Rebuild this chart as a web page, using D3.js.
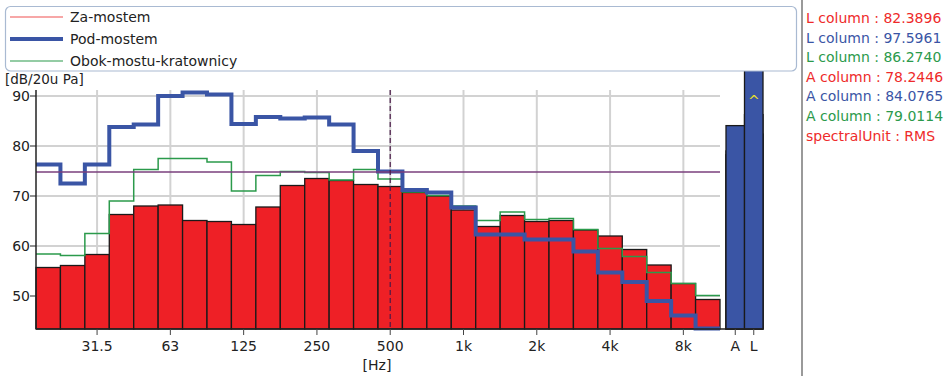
<!DOCTYPE html>
<html><head><meta charset="utf-8">
<script src="https://cdn.jsdelivr.net/npm/d3@7"></script>
<style>
body{margin:0;background:#fff;}
svg{display:block;font-family:"DejaVu Sans",sans-serif;}
</style></head>
<body><svg id="c" width="946" height="376"></svg>
<script>
// Third-octave band nominal frequencies (Hz)
const bands = [20,25,31.5,40,50,63,80,100,125,160,200,250,315,400,500,630,800,1000,1250,1600,2000,2500,3150,4000,5000,6300,8000,10000];
// Za-mostem (bars)
const zaMostem = [55.7,56.1,58.3,66.3,68.0,68.2,65.1,64.9,64.3,67.8,72.1,73.5,73.1,72.3,71.9,70.7,70.0,67.2,63.9,66.1,64.9,65.1,63.2,62.0,59.3,56.2,52.5,49.3];
// Pod-mostem (thick step line)
const podMostem = [76.3,72.5,76.3,83.8,84.3,90.0,90.7,90.3,84.4,85.8,85.5,85.7,84.3,79.0,74.9,71.2,70.7,67.7,62.3,62.3,61.3,61.3,58.9,54.7,52.8,49.0,46.1,43.5];
// Obok-mostu-kratownicy (thin step line)
const obokMostu = [58.4,58.1,62.5,69.0,75.3,77.5,77.5,76.8,71.0,74.1,74.9,74.7,73.2,75.3,73.4,70.8,70.1,68.0,65.1,66.8,65.3,65.5,63.3,59.5,57.9,54.7,52.5,50.1];
// Overall columns A and L
const colCats = ["A","L"];
const colZa = [78.2446, 82.3896];
const colPod = [84.0765, 97.5961];
const colObok = [79.0114, 86.2740];
const seriesNames = ["Za-mostem","Pod-mostem","Obok-mostu-kratownicy"];
const seriesColors = ["#ee2a2a","#3a55a5","#2b9a4b"];
const xTickValues = [31.5,63,125,250,500,1000,2000,4000,8000];
const xTickLabels = ["31.5","63","125","250","500","1k","2k","4k","8k"];
const yTicks = [50,60,70,80,90];
const refLevel = 74.8;
const markerFreq = 500;
const infoLines = [
  {t:"L column : 82.3896", c:"#ee2a2a"},
  {t:"L column : 97.5961", c:"#3a55a5"},
  {t:"L column : 86.2740", c:"#2b9a4b"},
  {t:"A column : 78.2446", c:"#ee2a2a"},
  {t:"A column : 84.0765", c:"#3a55a5"},
  {t:"A column : 79.0114", c:"#2b9a4b"},
  {t:"spectralUnit : RMS", c:"#ee2a2a"}
];

// exact base-2 third-octave value for a nominal frequency
const exact = f => 1000*Math.pow(2, Math.round(3*Math.log2(f/1000))/3);
const lo = f => exact(f)*Math.pow(2,-1/6);
const hi = f => exact(f)*Math.pow(2,1/6);

const svg = d3.select("#c");
const L = 36, R = 720, T = 90, B = 329;
const x = d3.scaleLog().domain([lo(bands[0]), hi(bands[bands.length-1])]).range([L,R]);
const y = d3.scaleLinear().domain([43.4, 91.2]).range([B,T]);
const xc = d3.scaleBand().domain(colCats).range([726,763]).padding(0);

// grid
const g = svg.append("g");
g.selectAll("line.hg").data(yTicks).join("line")
  .attr("x1",L).attr("x2",R).attr("y1",d=>y(d)).attr("y2",d=>y(d))
  .attr("stroke","#d2d2d2").attr("stroke-width",2);
g.selectAll("line.vg").data(xTickValues).join("line")
  .attr("x1",d=>x(exact(d))).attr("x2",d=>x(exact(d))).attr("y1",T).attr("y2",B)
  .attr("stroke","#d2d2d2").attr("stroke-width",2);

// bars
svg.append("g").selectAll("rect").data(bands).join("rect")
  .attr("x",d=>x(lo(d))).attr("width",d=>x(hi(d))-x(lo(d)))
  .attr("y",(d,i)=>y(zaMostem[i])).attr("height",(d,i)=>B-y(zaMostem[i]))
  .attr("fill","#ee2026").attr("stroke","#1a1a1a").attr("stroke-width",1.3);

// step lines
function stepPts(vals){
  const pts = bands.map((f,i)=>[x(lo(f)), y(vals[i])]);
  pts.push([x(hi(bands[bands.length-1])), y(vals[vals.length-1])]);
  return pts;
}
const stepLine = d3.line().curve(d3.curveStepAfter);
svg.append("path").attr("d",stepLine(stepPts(obokMostu))).attr("fill","none")
  .attr("stroke",seriesColors[2]).attr("stroke-width",1.5);
svg.append("path").attr("d",stepLine(stepPts(podMostem))).attr("fill","none")
  .attr("stroke",seriesColors[1]).attr("stroke-width",4);

// reference line & marker
svg.append("line").attr("x1",L).attr("x2",R).attr("y1",y(refLevel)).attr("y2",y(refLevel))
  .attr("stroke","#7a3f7c").attr("stroke-width",1.5);
svg.append("line").attr("x1",x(exact(markerFreq))).attr("x2",x(exact(markerFreq)))
  .attr("y1",T).attr("y2",B).attr("stroke","#4a1a48").attr("stroke-width",1.2).attr("stroke-dasharray","5,3");

// A / L columns
[[colZa,"#ee2026"],[colObok,seriesColors[2]],[colPod,seriesColors[1]]].forEach(([vals,col])=>{
  svg.append("g").selectAll("rect").data(colCats).join("rect")
    .attr("x",d=>xc(d)).attr("width",xc.bandwidth())
    .attr("y",(d,i)=>y(vals[i])).attr("height",(d,i)=>B-y(vals[i]))
    .attr("fill",col).attr("stroke","#1a1a1a").attr("stroke-width",1.3);
});
svg.append("text").attr("x",xc("L")+xc.bandwidth()/2).attr("y",T+16)
  .attr("text-anchor","middle").attr("fill","#e6df2a").attr("font-size",14).text("^");

// axes
const ax = svg.append("g").attr("font-size",14).attr("fill","#222");
ax.append("line").attr("x1",L).attr("x2",763).attr("y1",B).attr("y2",B).attr("stroke","#222").attr("stroke-width",1.5);
ax.append("line").attr("x1",L).attr("x2",L).attr("y1",T).attr("y2",B).attr("stroke","#222").attr("stroke-width",1.5);
yTicks.forEach(v=>{
  ax.append("line").attr("x1",L-6).attr("x2",L).attr("y1",y(v)).attr("y2",y(v)).attr("stroke","#222");
  ax.append("text").attr("x",L-6).attr("y",y(v)+5).attr("text-anchor","end").text(v);
});
xTickValues.forEach((v,i)=>{
  const px = x(exact(v));
  ax.append("line").attr("x1",px).attr("x2",px).attr("y1",B).attr("y2",B+6).attr("stroke","#444");
  ax.append("text").attr("x",px).attr("y",B+22).attr("text-anchor","middle").text(xTickLabels[i]);
});
colCats.forEach(c=>{
  const px = xc(c)+xc.bandwidth()/2;
  ax.append("line").attr("x1",px).attr("x2",px).attr("y1",B).attr("y2",B+6).attr("stroke","#444");
  ax.append("text").attr("x",px).attr("y",B+22).attr("text-anchor","middle").text(c);
});
ax.append("text").attr("x",377).attr("y",370).attr("text-anchor","middle").text("[Hz]");
ax.append("text").attr("x",5).attr("y",84).attr("font-size",13.5).text("[dB/20u Pa]");

// legend
const lg = svg.append("g");
lg.append("rect").attr("x",5.5).attr("y",6.5).attr("width",791).attr("height",64.5).attr("rx",5)
  .attr("fill","#fff").attr("stroke","#a9bad2").attr("stroke-width",1.2);
const lw = [1.2,4,1.2];
seriesNames.forEach((n,i)=>{
  const yy = 17 + i*22;
  lg.append("line").attr("x1",10).attr("x2",63).attr("y1",yy).attr("y2",yy)
    .attr("stroke",i===0?"#f05050":seriesColors[i]).attr("stroke-width",lw[i]);
  lg.append("text").attr("x",70).attr("y",yy+5).attr("font-size",14).attr("fill","#222").text(n);
});

// side info panel
svg.append("line").attr("x1",802).attr("x2",802).attr("y1",0).attr("y2",376).attr("stroke","#9a9a9a").attr("stroke-width",2);
svg.append("g").selectAll("text").data(infoLines).join("text")
  .attr("x",806).attr("y",(d,i)=>23+i*19.6).attr("font-size",14).attr("fill",d=>d.c).text(d=>d.t);
</script>
</body></html>
